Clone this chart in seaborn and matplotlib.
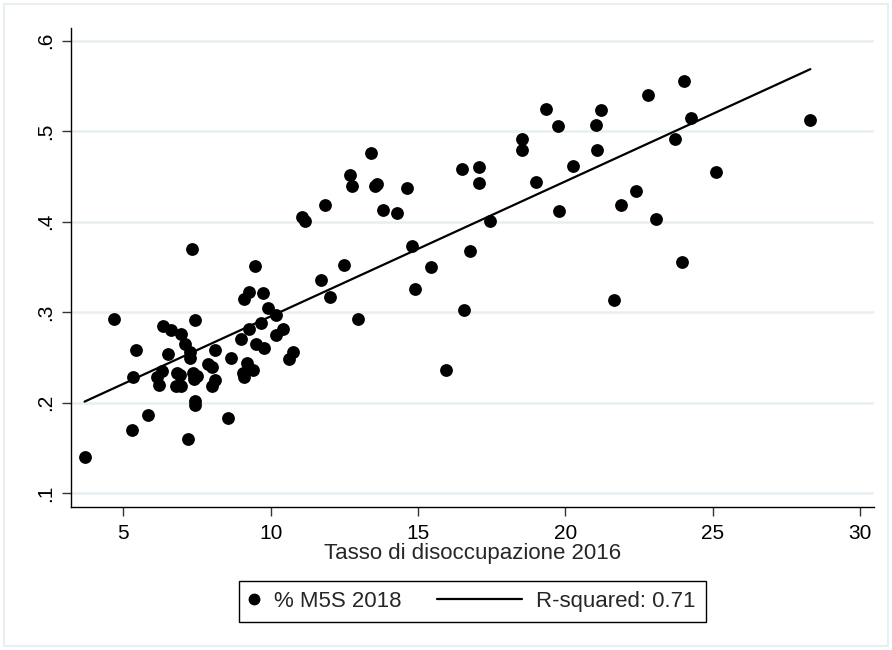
import pandas as pd
import matplotlib
matplotlib.use('Agg')
import matplotlib.pyplot as plt
import seaborn as sns
from matplotlib.lines import Line2D
from matplotlib.legend_handler import HandlerLine2D
from matplotlib.patches import Rectangle

# tasso di disoccupazione 2016 (x) e quota M5S 2018 (y)
disocc_2016 = [
    7.32, 9.45, 4.69, 7.43, 9.09, 9.26, 9.74, 9.90, 10.16, 6.35,
    6.63, 6.95, 7.08, 7.26, 7.26, 5.41, 6.52, 8.11, 9.27, 9.68,
    10.18, 10.41, 10.76, 10.61, 9.49, 9.76, 9.00, 8.65, 9.20, 9.39,
    9.05, 9.09, 7.86, 8.01, 8.12, 7.99, 6.32, 6.14, 6.20, 5.31,
    6.81, 6.92, 6.79, 6.95, 7.35, 7.49, 7.39, 7.42, 7.43, 5.84,
    5.29, 8.55, 7.19, 3.68,
    19.34, 19.74, 18.51, 18.51, 20.25, 18.99, 19.79, 13.41, 12.69, 12.75,
    13.54, 13.61, 14.62, 16.48, 17.07, 17.06, 13.82, 14.29, 11.84, 11.07,
    11.16, 17.45, 14.80, 16.77, 12.47, 15.44, 11.70, 12.01, 14.89, 12.96,
    16.56, 15.94,
    24.03, 22.81, 24.26, 28.31, 21.21, 21.02, 21.06, 23.70, 25.11, 22.40,
    21.89, 23.07, 23.96, 21.66,
]
m5s_2018 = [
    0.370, 0.351, 0.293, 0.292, 0.315, 0.322, 0.321, 0.305, 0.297, 0.285,
    0.280, 0.276, 0.265, 0.256, 0.250, 0.258, 0.254, 0.258, 0.282, 0.288,
    0.275, 0.281, 0.256, 0.248, 0.265, 0.261, 0.270, 0.249, 0.244, 0.236,
    0.233, 0.229, 0.243, 0.240, 0.225, 0.219, 0.235, 0.229, 0.220, 0.229,
    0.233, 0.231, 0.219, 0.219, 0.233, 0.230, 0.226, 0.202, 0.198, 0.187,
    0.170, 0.183, 0.160, 0.140,
    0.525, 0.506, 0.491, 0.479, 0.462, 0.444, 0.412, 0.476, 0.452, 0.439,
    0.439, 0.442, 0.437, 0.458, 0.461, 0.443, 0.413, 0.410, 0.418, 0.405,
    0.401, 0.401, 0.373, 0.368, 0.352, 0.350, 0.336, 0.317, 0.326, 0.293,
    0.303, 0.236,
    0.556, 0.540, 0.515, 0.512, 0.523, 0.507, 0.479, 0.491, 0.455, 0.434,
    0.418, 0.403, 0.355, 0.313,
]

x_ticks = [5, 10, 15, 20, 25, 30]
y_ticks = [0.1, 0.2, 0.3, 0.4, 0.5, 0.6]
y_tick_labels = ['.1', '.2', '.3', '.4', '.5', '.6']
x_title = 'Tasso di disoccupazione 2016'
legend_labels = ['% M5S 2018', 'R-squared: 0.71']

df = pd.DataFrame({'disocc': disocc_2016, 'm5s': m5s_2018})

sns.set_style('ticks')
plt.rcParams['font.family'] = ['Liberation Sans', 'DejaVu Sans']

grid_col = '#E8EFF1'

fig = plt.figure(figsize=(8.92, 6.5), dpi=100)
ax = fig.add_axes([71 / 892, 1 - 507 / 650, (874 - 71) / 892, (507 - 28) / 650])

sns.scatterplot(data=df, x='disocc', y='m5s', color='black', s=85,
                linewidth=0, ax=ax, zorder=3, legend=False)
# retta dei minimi quadrati (come lfit in Stata)
sns.regplot(data=df, x='disocc', y='m5s', scatter=False, ci=None,
            truncate=True, color='black', line_kws={'lw': 1.6, 'zorder': 4}, ax=ax)

ax.set_xlim(3.22, 30.47)
ax.set_ylim(0.0849, 0.614)
ax.set_xticks(x_ticks)
ax.set_yticks(y_ticks)
ax.set_yticklabels(y_tick_labels, rotation=90, va='center')

ax.grid(axis='y', color=grid_col, lw=1.8)
ax.set_axisbelow(True)
for side in ['top', 'right']:
    ax.spines[side].set_visible(False)
for side in ['left', 'bottom']:
    ax.spines[side].set_color('black')
    ax.spines[side].set_linewidth(1.0)

ax.tick_params(axis='both', direction='out', length=6.5, width=1,
               color='#333333', labelsize=15, labelcolor='black')
ax.tick_params(axis='y', pad=5)
ax.tick_params(axis='x', pad=5.5)

ax.set_ylabel('')
ax.set_xlabel(x_title, fontsize=16, va='center')
ax.xaxis.set_label_coords(0.5, -0.097)


class DotHandler(HandlerLine2D):
    # stretto spazio per il pallino, come nella legenda di Stata
    def legend_artist(self, legend, orig_handle, fontsize, handlebox):
        handlebox.width = 0.5 * fontsize
        return super().legend_artist(legend, orig_handle, fontsize, handlebox)


dot = Line2D([], [], marker='o', ls='', color='black', markersize=7.5)
fit_line = Line2D([], [], color='black', lw=1.6)
leg = fig.legend([dot, fit_line], legend_labels,
                 handler_map={dot: DotHandler(numpoints=1)},
                 loc='center', bbox_to_anchor=(472 / 892, 1 - 601.5 / 650),
                 ncol=2, fontsize=16, frameon=True, fancybox=False,
                 edgecolor='black', framealpha=1, borderpad=0.45,
                 handlelength=3.8, handletextpad=0.65, columnspacing=1.6)
leg.get_frame().set_linewidth(1.0)

# cornice esterna chiara
fig.patches.append(Rectangle((4 / 892, 4 / 650), 1 - 8 / 892, 1 - 8 / 650,
                             transform=fig.transFigure, fill=False,
                             ec=grid_col, lw=1.5))

fig.savefig('out.png', dpi=100)
